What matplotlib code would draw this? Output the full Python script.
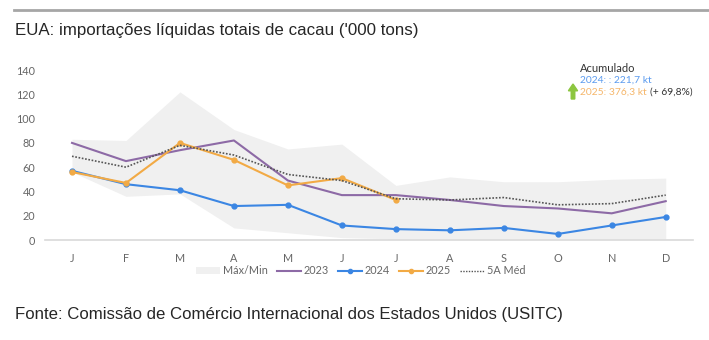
import numpy as np
import matplotlib
matplotlib.use("Agg")
import matplotlib.pyplot as plt
from matplotlib.patches import Patch, FancyArrow
from matplotlib.lines import Line2D

# data ('000 tons)
months = ["J", "F", "M", "A", "M", "J", "J", "A", "S", "O", "N", "D"]
band_max = [83, 82, 122, 91, 75, 79, 45, 52, 48, 48, 50, 51]
band_min = [56, 36, 38, 10, 6, 2, 1, 1, 1, 1, 1, 1]
y2023 = [80, 65, 74, 82, 49, 37, 37, 33, 28, 26, 22, 32]
y2024 = [57, 46, 41, 28, 29, 12, 9, 8, 10, 5, 12, 19]
y2025 = [56, 47, 80, 66, 45, 51, 33]
avg5 = [69, 60, 78, 70, 54, 49, 34, 33, 35, 29, 30, 37]

acc_2024 = "221,7 kt"
acc_2025 = "376,3 kt"
acc_chg = "(+ 69,8%)"

c_band = "#f0f0f0"
c_2023 = "#8d6aa6"
c_2024 = "#3b86e3"
c_2025 = "#f2aa45"
c_avg = "#555555"
c_text = "#666666"

plt.rcParams["font.family"] = ["Lato", "DejaVu Sans"]

fig = plt.figure(figsize=(7.09, 3.40), dpi=100)
ax = fig.add_axes([0.0635, 0.294, 0.9135, 0.50])

x = np.arange(len(months))
ax.fill_between(x, band_min, band_max, color=c_band, lw=0, label="Máx/Min")
ax.plot(x, y2023, color=c_2023, lw=1.5, label="2023")
ax.plot(x, y2024, color=c_2024, lw=1.5, marker="o", ms=3.5, label="2024")
ax.plot(np.arange(len(y2025)), y2025, color=c_2025, lw=1.5, marker="o", ms=3.5, label="2025")
ax.plot(x, avg5, color=c_avg, lw=1.2, ls=(0, (1, 1)), label="5A Méd")

ax.set_xlim(-0.5, 11.5)
ax.set_ylim(0, 140)
ax.set_yticks(range(0, 141, 20))
ax.set_xticks(x)
ax.set_xticklabels(months)
ax.tick_params(axis="both", length=0, labelsize=7.8, labelcolor=c_text)
ax.tick_params(axis="x", pad=9)
ax.tick_params(axis="y", pad=7)
for s in ["top", "right", "left"]:
    ax.spines[s].set_visible(False)
ax.spines["bottom"].set_color("#d9d9d9")
ax.spines["bottom"].set_linewidth(1.2)

handles = [
    Patch(facecolor=c_band, edgecolor="none", label="Máx/Min"),
    Line2D([], [], color=c_2023, lw=1.5, label="2023"),
    Line2D([], [], color=c_2024, lw=1.5, marker="o", ms=3, label="2024"),
    Line2D([], [], color=c_2025, lw=1.5, marker="o", ms=3, label="2025"),
    Line2D([], [], color=c_avg, lw=1.0, ls=(0, (1, 1)), label="5A Méd"),
]
leg = fig.legend(handles=handles, loc="center", bbox_to_anchor=(0.509, 0.203), ncol=5,
                 frameon=False, fontsize=7.8, handlelength=2.2, handletextpad=0.3,
                 columnspacing=0.8)
for t in leg.get_texts():
    t.set_color(c_text)

# annotation block
fig.text(580 / 709, 1 - 69 / 340, "Acumulado", fontsize=8, color="#333333", va="center")
fig.text(580 / 709, 1 - 80.5 / 340, "2024: : " + acc_2024, fontsize=7.4, color="#5b9bef", va="center")
t25 = fig.text(580 / 709, 1 - 92 / 340, "2025: " + acc_2025, fontsize=7.4, color="#f5b66a", va="center")
fig.canvas.draw()
bb = t25.get_window_extent()
fig.text(bb.x1 / fig.bbox.width + 0.005, 1 - 92 / 340, acc_chg, fontsize=7.4, color="#333333", va="center")
fig.patches.append(FancyArrow(573 / 709, 1 - 99 / 340, 0, 15 / 340, width=0.005,
                              head_width=0.013, head_length=0.02, length_includes_head=True,
                              color="#8cc63f", transform=fig.transFigure))

# header / footer
fig.add_artist(Line2D([14 / 709, 1.0], [1 - 10 / 340, 1 - 10 / 340], color="#a6a6a6", lw=2,
                      transform=fig.transFigure))
fig.text(15 / 709, 1 - 31 / 340, "EUA: importações líquidas totais de cacau ('000 tons)",
         fontsize=12.2, color="#262626", va="center", family=["Liberation Sans", "DejaVu Sans"])
fig.text(15 / 709, 1 - 315 / 340, "Fonte: Comissão de Comércio Internacional dos Estados Unidos (USITC)",
         fontsize=12.1, color="#262626", va="center", family=["Liberation Sans", "DejaVu Sans"])

fig.savefig("out.png", dpi=100)
